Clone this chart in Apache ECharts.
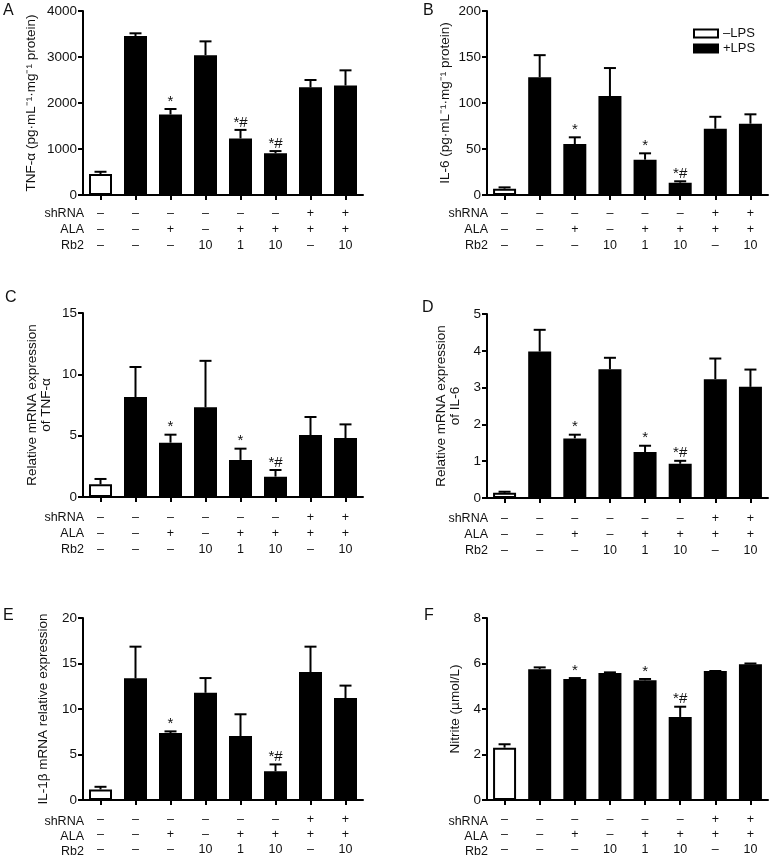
<!DOCTYPE html>
<html>
<head>
<meta charset="utf-8">
<script src="https://cdn.jsdelivr.net/npm/echarts@6/dist/echarts.min.js"></script>
<style>
html,body{margin:0;padding:0;background:#fff;}
#chart{width:773px;height:857px;}
</style>
</head>
<body>
<div id="chart"></div>
<script>
// ---- data ----
const categories = ['1', '2', '3', '4', '5', '6', '7', '8'];
const shRNA = ['–', '–', '–', '–', '–', '–', '+', '+'];
const ALA   = ['–', '–', '+', '–', '+', '+', '+', '+'];
const Rb2   = ['–', '–', '–', '10', '1', '10', '–', '10'];
const rowNames = ['shRNA', 'ALA', 'Rb2'];
const legendNames = ['–LPS', '+LPS'];

const tnfProtein      = [455, 3455, 1750, 3040, 1230, 905, 2340, 2380];
const tnfProteinUpper = [505, 3515, 1870, 3340, 1415, 955, 2500, 2710];
const tnfProteinMarks = ['', '', '*', '', '*#', '*#', '', ''];

const il6Protein      = [6.9, 128, 55.4, 107.6, 38.4, 13.4, 72, 77.5];
const il6ProteinUpper = [8.3, 152, 62.7, 138, 45.3, 14.9, 85, 87.7];
const il6ProteinMarks = ['', '', '*', '', '*', '*#', '', ''];

const tnfMrna      = [1.03, 8.15, 4.43, 7.31, 3.02, 1.66, 5.05, 4.81];
const tnfMrnaUpper = [1.47, 10.6, 5.08, 11.1, 3.94, 2.2, 6.52, 5.92];
const tnfMrnaMarks = ['', '', '*', '', '*', '*#', '', ''];

const il6Mrna      = [0.14, 3.98, 1.62, 3.5, 1.25, 0.93, 3.23, 3.02];
const il6MrnaUpper = [0.17, 4.57, 1.72, 3.81, 1.42, 1.01, 3.79, 3.49];
const il6MrnaMarks = ['', '', '*', '', '*', '*#', '', ''];

const il1bMrna      = [1.16, 13.37, 7.36, 11.78, 7.03, 3.15, 14.06, 11.2];
const il1bMrnaUpper = [1.45, 16.85, 7.54, 13.4, 9.42, 3.91, 16.85, 12.57];
const il1bMrnaMarks = ['', '', '*', '', '', '*#', '', ''];

const nitrite      = [2.30, 5.75, 5.32, 5.58, 5.26, 3.65, 5.67, 5.97];
const nitriteUpper = [2.45, 5.83, 5.36, 5.61, 5.32, 4.10, 5.67, 6.00];
const nitriteMarks = ['', '', '*', '', '*', '*#', '', ''];

const yMax      = [4000, 200, 15, 5, 20, 8];
const yInterval = [1000, 50, 5, 1, 5, 2];
const yTitles = [
  'TNF-α (pg·mL⁻¹·mg⁻¹ protein)',
  'IL-6 (pg·mL⁻¹·mg⁻¹ protein)',
  'Relative mRNA expression\nof TNF-α',
  'Relative mRNA expression\nof IL-6',
  'IL-1β mRNA relative expression',
  'Nitrite (µmol/L)'
];
const panelLetters = ['A', 'B', 'C', 'D', 'E', 'F'];

// ---- layout ----
const FONT = '"Liberation Sans", Arial, sans-serif';
const TXT = '#111';
const panels = [
  {mean: tnfProtein, upper: tnfProteinUpper, marks: tnfProteinMarks, grid: {left: 83, top: 11, width: 280, height: 184}, gap: 45, lm: 10, lh: 16.3, letter: [3, 3]},
  {mean: il6Protein, upper: il6ProteinUpper, marks: il6ProteinMarks, grid: {left: 487, top: 11, width: 281, height: 184}, gap: 35, lm: 10, lh: 16.3, letter: [423, 3]},
  {mean: tnfMrna, upper: tnfMrnaUpper, marks: tnfMrnaMarks, grid: {left: 83, top: 313, width: 280, height: 184}, gap: 30, lm: 13, lh: 15.7, letter: [5, 290]},
  {mean: il6Mrna, upper: il6MrnaUpper, marks: il6MrnaMarks, grid: {left: 487, top: 314, width: 281, height: 184}, gap: 25, lm: 13, lh: 15.7, letter: [422, 300]},
  {mean: il1bMrna, upper: il1bMrnaUpper, marks: il1bMrnaMarks, grid: {left: 83, top: 618, width: 280, height: 184}, gap: 33, lm: 12, lh: 15, letter: [3, 608]},
  {mean: nitrite, upper: nitriteUpper, marks: nitriteMarks, grid: {left: 487, top: 618, width: 281, height: 184}, gap: 25, lm: 12, lh: 15, letter: [424, 608]}
];

const grids = [], xAxes = [], yAxes = [], series = [], graphics = [];

panels.forEach((p, k) => {
  grids.push(Object.assign({containLabel: false}, p.grid));
  xAxes.push({
    type: 'category', gridIndex: k, data: categories, boundaryGap: true,
    axisLine: {show: true, lineStyle: {color: '#000', width: 2}},
    axisTick: {show: true, alignWithLabel: true, length: 5, lineStyle: {color: '#000', width: 2}},
    axisLabel: {
      show: true, interval: 0, margin: p.lm, fontSize: 12.5, lineHeight: p.lh,
      color: TXT, fontFamily: FONT,
      formatter: (v, i) => shRNA[i] + '\n' + ALA[i] + '\n' + Rb2[i]
    },
    splitLine: {show: false}
  });
  yAxes.push({
    type: 'value', gridIndex: k, min: 0, max: yMax[k], interval: yInterval[k],
    name: yTitles[k], nameLocation: 'middle', nameGap: p.gap,
    nameTextStyle: {fontSize: 13.5, lineHeight: 14, color: TXT, fontFamily: FONT},
    axisLine: {show: true, lineStyle: {color: '#000', width: 2}},
    axisTick: {show: true, length: 5, lineStyle: {color: '#000', width: 2}},
    axisLabel: {margin: 6, fontSize: 13.5, color: TXT, fontFamily: FONT, formatter: v => String(v)},
    splitLine: {show: false}
  });
  series.push({
    type: 'bar', name: legendNames[0], xAxisIndex: k, yAxisIndex: k,
    data: p.mean.map((v, i) => i === 0 ? v : '-'),
    barWidth: 23, barGap: '-100%',
    itemStyle: {color: '#fff', borderColor: '#000', borderWidth: 2},
    silent: true
  });
  series.push({
    type: 'bar', name: legendNames[1], xAxisIndex: k, yAxisIndex: k,
    data: p.mean.map((v, i) => i === 0 ? '-' : v),
    barWidth: 23, barGap: '-100%',
    itemStyle: {color: '#000', borderColor: '#000', borderWidth: 2},
    silent: true
  });
  const marks = p.marks;
  series.push({
    type: 'custom', xAxisIndex: k, yAxisIndex: k, z: 5, silent: true,
    data: p.mean.map((v, i) => [i, v, p.upper[i]]),
    renderItem: function (params, api) {
      const base = api.coord([api.value(0), api.value(1)]);
      const top = api.coord([api.value(0), api.value(2)]);
      const x = base[0];
      const children = [
        {type: 'line', shape: {x1: x, y1: base[1], x2: x, y2: top[1]}, style: {stroke: '#000', lineWidth: 2}},
        {type: 'line', shape: {x1: x - 6, y1: top[1], x2: x + 6, y2: top[1]}, style: {stroke: '#000', lineWidth: 2}}
      ];
      const m = marks[params.dataIndex];
      if (m) {
        children.push({type: 'text', style: {text: m, x: x, y: top[1], align: 'center', verticalAlign: 'bottom', fontSize: 15, fontFamily: FONT, fill: TXT}});
      }
      return {type: 'group', children: children};
    }
  });
  // row labels of the treatment table
  rowNames.forEach((r, j) => {
    graphics.push({
      type: 'text',
      x: p.grid.left + 1, y: p.grid.top + p.grid.height + p.lm + p.lh * (j + 0.5),
      style: {text: r, align: 'right', verticalAlign: 'middle', fontSize: 12.5, fontFamily: FONT, fill: TXT}
    });
  });
  graphics.push({
    type: 'text', x: p.letter[0], y: p.letter[1],
    style: {text: panelLetters[k], fontSize: 16, fontFamily: FONT, fill: '#111'}
  });
});

const chart = echarts.init(document.getElementById('chart'), null, {renderer: 'canvas'});
chart.setOption({
  animation: false,
  backgroundColor: '#fff',
  grid: grids,
  xAxis: xAxes,
  yAxis: yAxes,
  legend: {
    data: legendNames, orient: 'vertical', left: 688, top: 22,
    itemWidth: 24, itemHeight: 8, itemGap: 2, icon: 'rect',
    textStyle: {fontSize: 13, color: TXT, fontFamily: FONT},
    selectedMode: false
  },
  series: series,
  graphic: graphics
});
</script>
</body>
</html>
